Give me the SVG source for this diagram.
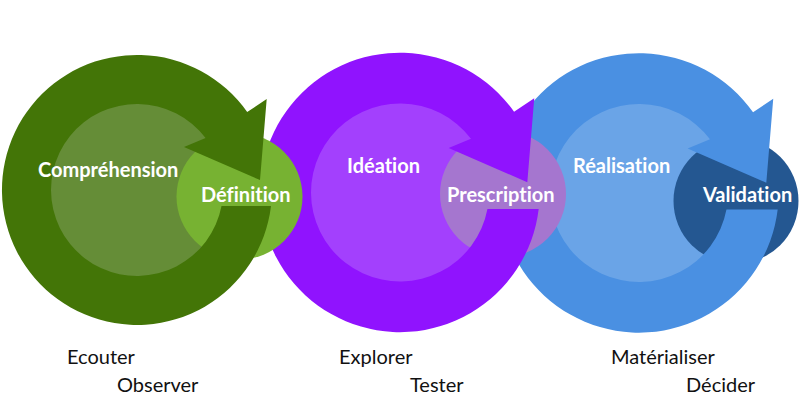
<svg xmlns="http://www.w3.org/2000/svg" xmlns:xlink="http://www.w3.org/1999/xlink" width="800" height="420" viewBox="0 0 800 420">
  <style>
    .lbl { font-family: Lato, "Open Sans", "Liberation Sans", sans-serif; font-size: 20px; font-weight: 700; fill: #ffffff; font-variant-ligatures: none; }
    .sub { font-family: Lato, "Open Sans", "Liberation Sans", sans-serif; font-size: 20px; font-weight: 400; fill: #111111; font-variant-ligatures: none; }
  </style>
  <defs>
    <path id="ring" d="M 134,16 A 135 135 0 1 1 110.2,-78 L 129.7,-91 L 123,-10 L 47,-43 L 68.6,-51.9 A 86 86 0 1 0 84.5,16 Z"/>
  </defs>
  <rect width="800" height="420" fill="#ffffff"/>

  <g id="realisation">
    <circle cx="639" cy="193" r="90.5" fill="#6aa4e7"/>
    <text class="lbl" x="573" y="173">Réalisation</text>
  </g>
  <g id="validation">
    <circle cx="736" cy="201" r="62.5" fill="#245791"/>
  </g>
  <g id="arrow-realisation">
    <use xlink:href="#ring" transform="translate(639,193) scale(1.035)" fill="#4a90e2"/>
  </g>
  <g id="validation-label">
    <text class="lbl" x="703" y="202">Validation</text>
  </g>

  <g id="ideation">
    <circle cx="400" cy="192.5" r="90.5" fill="#a340fd"/>
    <text class="lbl" x="347" y="173">Idéation</text>
  </g>
  <g id="prescription">
    <circle cx="503" cy="194" r="63" fill="#a576cf"/>
  </g>
  <g id="arrow-ideation">
    <use xlink:href="#ring" transform="translate(400,192.5) scale(1.035)" fill="#9013fe"/>
  </g>
  <g id="prescription-label">
    <text class="lbl" x="447" y="202">Prescription</text>
  </g>

  <g id="comprehension">
    <circle cx="137" cy="190" r="87.5" fill="#658d37"/>
  </g>
  <g id="definition">
    <circle cx="239.5" cy="196.5" r="63" fill="#77b232"/>
  </g>
  <g id="arrow-comprehension">
    <use xlink:href="#ring" transform="translate(137,190)" fill="#437507"/>
  </g>
  <g id="labels-comprehension">
    <text class="lbl" x="38" y="177">Compréhension</text>
    <text class="lbl" x="201" y="202">Définition</text>
  </g>

  <g id="activities">
    <text class="sub" x="67" y="364">Ecouter</text>
    <text class="sub" x="117" y="392">Observer</text>
    <text class="sub" x="339" y="364">Explorer</text>
    <text class="sub" x="410" y="392">Tester</text>
    <text class="sub" x="611" y="364">Matérialiser</text>
    <text class="sub" x="686" y="392">Décider</text>
  </g>
</svg>
